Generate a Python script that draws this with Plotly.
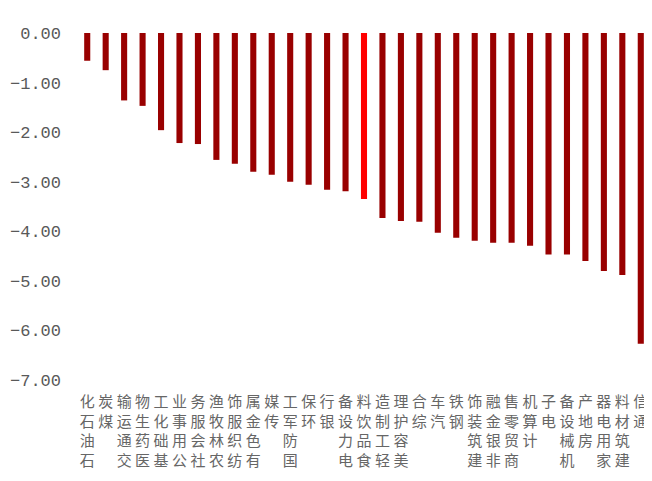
import plotly.graph_objects as go

categories = ["石油石化", "煤炭", "交通运输", "医药生物", "基础化工", "公用事业", "社会服务",
              "农林牧渔", "纺织服饰", "有色金属", "传媒", "国防军工", "环保", "银行", "电力设备",
              "食品饮料", "轻工制造", "美容护理", "综合", "汽车", "钢铁", "建筑装饰", "非银金融",
              "商贸零售", "计算机", "电子", "机械设备", "房地产", "家用电器", "建筑材料", "通信"]
values = [-0.56, -0.75, -1.36, -1.47, -1.96, -2.22, -2.24, -2.56, -2.64, -2.80, -2.86,
          -3.00, -3.06, -3.16, -3.19, -3.35, -3.73, -3.79, -3.81, -4.03, -4.13, -4.19,
          -4.23, -4.23, -4.29, -4.47, -4.47, -4.60, -4.80, -4.88, -6.27]
highlight = "食品饮料"

colors = ["#FF0000" if c == highlight else "#990000" for c in categories]
ticktext = ["<br>".join(reversed(list(c))) for c in categories]

fig = go.Figure(go.Bar(x=categories, y=values, marker=dict(color=colors, line=dict(width=0)),
                       width=0.33))

# page body has an 8px default margin, so the figure is sized to fit the 652x481 window
fig.update_layout(
    width=644, height=473,
    margin=dict(l=70, r=2, t=25, b=101),
    paper_bgcolor="white", plot_bgcolor="white",
    showlegend=False,
    xaxis=dict(tickmode="array", tickvals=categories, ticktext=ticktext,
               tickangle=0, showline=False, showgrid=False, zeroline=False,
               range=[-0.5, len(categories) - 0.5],
               tickfont=dict(family="Noto Sans CJK SC", size=15, color="#666666"),
               ticklabelstandoff=11),
    yaxis=dict(range=[-7, 0], dtick=1, tickformat=".2f", showgrid=False, zeroline=False,
               showline=False,
               tickfont=dict(family="Liberation Mono", size=17, color="#595959"),
               ticklabelstandoff=16),
)

fig.write_html("out.html")
